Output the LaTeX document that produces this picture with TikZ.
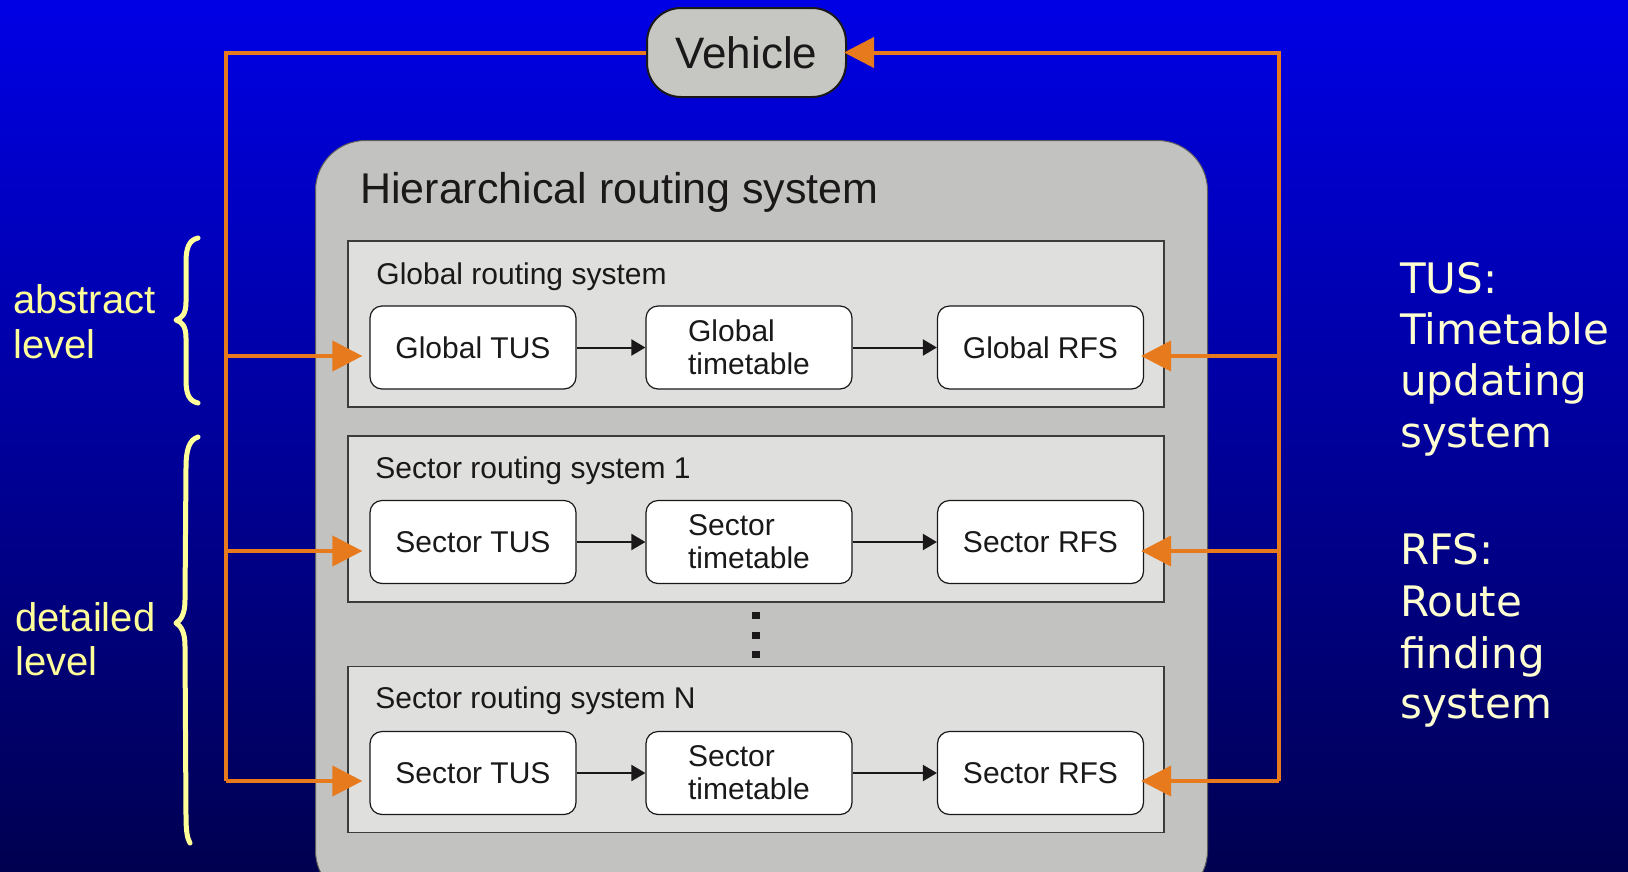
\documentclass[tikz,border=0pt]{standalone}
\usepackage{fontspec}
\setmainfont{Liberation Sans}
\newfontfamily\notefont{DejaVu Sans}
\usetikzlibrary{arrows.meta,calc}

\definecolor{bgtop}{RGB}{0,0,230}
\definecolor{bgbot}{RGB}{0,0,80}
\definecolor{flow}{RGB}{232,122,30}
\definecolor{panel}{RGB}{194,194,192}
\definecolor{subpanel}{RGB}{223,223,221}
\definecolor{vehfill}{RGB}{198,198,194}
\definecolor{ink}{RGB}{26,24,24}
\definecolor{paleyellow}{RGB}{255,255,153}
\definecolor{cream}{RGB}{255,255,210}

\begin{document}
\begin{tikzpicture}[x=1pt,y=-1pt,
  unitbox/.style={draw=ink, line width=1.2pt, fill=white, rounded corners=12pt,
    minimum width=206pt, minimum height=83pt, inner sep=0pt, align=left,
    font=\fontsize{30}{33}\selectfont, text=ink},
  groupbox/.style={draw=ink!85, line width=1.5pt, fill=subpanel,
    minimum width=816pt, minimum height=166pt, inner sep=0pt},
  boxtitle/.style={anchor=base west, inner sep=0pt, text=ink},
  flowline/.style={draw=flow, line width=4pt},
  flowarrow/.style={flowline, -{Triangle[length=30pt,width=30pt]}},
  dataarrow/.style={draw=ink, line width=2pt, -{Triangle[length=14pt,width=16pt]}},
  sidelabel/.style={anchor=base west, inner sep=0pt, text=paleyellow,
    font=\fontsize{40}{40}\selectfont},
  notelabel/.style={anchor=base west, inner sep=0pt, text=cream,
    font=\notefont\fontsize{42}{42}\selectfont},
  bracestroke/.style={draw=paleyellow, line width=5pt, line cap=round, line join=round}
]
\useasboundingbox (0,0) rectangle (1628,871);
\clip (0,0) rectangle (1628,871);

% background
\shade[top color=bgtop, bottom color=bgbot] (0,0) rectangle (1628,871);

% outer container
\node[draw=ink!70, line width=1pt, fill=panel, rounded corners=50pt,
  minimum width=892pt, minimum height=760pt, inner sep=0pt, anchor=north west]
  (hrs) at (315,140) {};
\node[boxtitle, font=\fontsize{43}{43}\selectfont] (hrstitle)
  at ($(hrs.north west)+(45,63)$) {Hierarchical routing system};

% vehicle
\node[draw=ink, line width=2pt, fill=vehfill, rounded corners=34pt,
  minimum width=199pt, minimum height=89pt, inner sep=0pt,
  font=\fontsize{44}{44}\selectfont, text=ink] (veh) at (746.5,52.5) {Vehicle};

% sub-systems
\node[groupbox] (g0) at (756,324) {};
\node[groupbox] (g1) at (756,519) {};
\node[groupbox] (gN) at (756,749.5) {};

\node[boxtitle, font=\fontsize{30}{30}\selectfont] (t0) at ($(g0.north west)+(29,44)$) {Global routing system};
\node[boxtitle, font=\fontsize{30}{30}\selectfont] (t1) at ($(g1.north west)+(28,43)$) {Sector routing system 1};
\node[boxtitle, font=\fontsize{30}{30}\selectfont] (tN) at ($(gN.north west)+(28,43)$) {Sector routing system N};

\node[unitbox] (tus0) at (473,347.5) {Global TUS};
\node[unitbox] (tt0)  at (749,347.5) {Global\\timetable};
\node[unitbox] (rfs0) at (1040.5,347.5) {Global RFS};

\node[unitbox] (tus1) at (473,542) {Sector TUS};
\node[unitbox] (tt1)  at (749,542) {Sector\\timetable};
\node[unitbox] (rfs1) at (1040.5,542) {Sector RFS};

\node[unitbox] (tusN) at (473,773) {Sector TUS};
\node[unitbox] (ttN)  at (749,773) {Sector\\timetable};
\node[unitbox] (rfsN) at (1040.5,773) {Sector RFS};

\foreach \r in {0,1,N}{
  \draw[dataarrow] (tus\r.east) -- (tt\r.west);
  \draw[dataarrow] (tt\r.east) -- (rfs\r.west);
}

% vertical ellipsis between sector systems
\foreach \yy in {612,632,651}
  \fill[ink] (752,\yy) rectangle (760,\yy+7);

% feedback loop through the vehicle
\coordinate (l0) at (226,356);
\coordinate (l1) at (226,551);
\coordinate (lN) at (226,781);
\coordinate (r0) at (1279,356);
\coordinate (r1) at (1279,551);
\coordinate (rN) at (1279,781);

\draw[flowline] (veh.west) -| (lN);
\draw[flowarrow, shorten >=7pt] (l0) -- (tus0.west |- l0);
\draw[flowarrow, shorten >=7pt] (l1) -- (tus1.west |- l1);
\draw[flowarrow, shorten >=7pt] (lN) -- (tusN.west |- lN);

\draw[flowarrow, shorten >=-3pt] (rN) |- (veh.east);
\draw[flowarrow, shorten >=-3pt] (r0) -- (rfs0.east |- r0);
\draw[flowarrow, shorten >=-3pt] (r1) -- (rfs1.east |- r1);
\draw[flowarrow, shorten >=-3pt] (rN) -- (rfsN.east |- rN);

% level braces
\draw[bracestroke] (198,238) .. controls (189,240) and (186,248) .. (186,262)
  -- (186,302) .. controls (186,314) and (182,318) .. (176,320)
  .. controls (182,322) and (186,326) .. (186,338)
  -- (186,380) .. controls (186,394) and (189,401) .. (198,403);
\draw[bracestroke] (198,437) .. controls (189,440) and (186,450) .. (186,468)
  -- (185,600) .. controls (185,614) and (181,620) .. (176,623)
  .. controls (181,626) and (185,632) .. (185,646)
  -- (186,815) .. controls (186,830) and (187,838) .. (190,843);

\node[sidelabel] (abs1) at (13,313) {abstract};
\node[sidelabel] (abs2) at (13,358) {level};
\node[sidelabel] (det1) at (15,631) {detailed};
\node[sidelabel] (det2) at (15,675) {level};

% abbreviations
\node[notelabel] (n1) at (1400,293) {TUS:};
\node[notelabel] (n2) at (1400,344) {Timetable};
\node[notelabel] (n3) at (1400,395) {updating};
\node[notelabel] (n4) at (1400,447) {system};
\node[notelabel] (n5) at (1400,564) {RFS:};
\node[notelabel] (n6) at (1400,616) {Route};
\node[notelabel] (n7) at (1400,668) {finding};
\node[notelabel] (n8) at (1400,718) {system};
\end{tikzpicture}
\end{document}
